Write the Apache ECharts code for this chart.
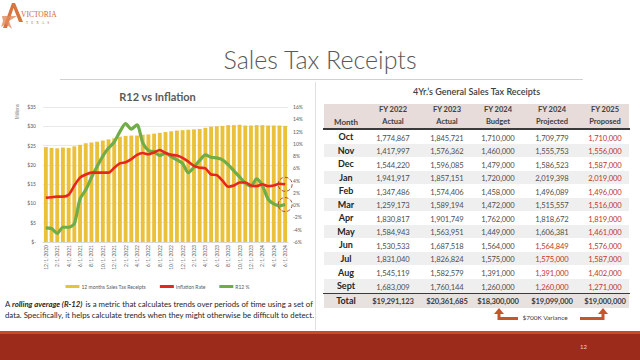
<!DOCTYPE html>
<html><head><meta charset="utf-8">
<script src="https://cdn.jsdelivr.net/npm/echarts@6/dist/echarts.min.js"></script>
<style>
html,body{margin:0;padding:0;width:640px;height:360px;overflow:hidden;background:#fff;font-family:Lato,"Open Sans",sans-serif;}
.abs{position:absolute;}
#chart{position:absolute;left:0;top:0;width:315px;height:300px;}
.cell{position:absolute;text-align:center;white-space:nowrap;}
.para{position:absolute;left:5px;white-space:nowrap;font-size:7.8px;color:#262626;}
</style></head>
<body>
<!-- logo -->
<svg class="abs" style="left:0;top:0" width="30" height="32">
  <polygon points="3,28 12,3 15,3 23,22 19,22 13.5,8 7,28" fill="#d9733f"/>
  <polygon points="2,16 17,16 9,21 12,29 6,24 1,27 3,21" fill="#e08a5a" opacity="0.8"/>
</svg>
<div class="abs" style="left:21px;top:10px;font-family:'Liberation Serif',serif;font-size:7.5px;color:#c9673a;">VICTORIA</div>
<div class="abs" style="left:26px;top:21px;font-family:'Liberation Serif',serif;font-size:3.5px;color:#c9673a;letter-spacing:3px">TEXAS</div>

<div class="abs" style="left:0;width:640px;top:44px;text-align:center;font-size:25px;color:#595959;font-weight:300;">Sales Tax Receipts</div>
<div class="abs" style="left:60px;width:523px;top:79px;height:1px;background:#d0d0d0"></div>
<div class="abs" style="left:315px;width:1px;top:82px;height:248px;background:#e0e0e0"></div>

<div id="chart"></div>

<div class="para" style="top:299px;">A <b><i style="padding-right:1px">rolling average (R-12)</i></b> is a metric that calculates trends over periods of time using a set of</div>
<div class="para" style="top:309.5px;">data. Specifically, it helps calculate trends when they might otherwise be difficult to detect.</div>

<div id="table"></div>

<svg class="abs" style="left:490px;top:304px" width="125" height="22">
  <polyline points="28,14.5 9,14.5 9,9" fill="none" stroke="#c5552a" stroke-width="3"/>
  <polygon points="4,10 14,10 9,4" fill="#c5552a"/>
  <polyline points="90,14.5 113,14.5 113,9" fill="none" stroke="#c5552a" stroke-width="3"/>
  <polygon points="108,10 118,10 113,4" fill="#c5552a"/>
</svg>
<div class="abs" style="left:515px;width:60px;top:314px;text-align:center;font-size:6.5px;color:#404040;">$700K Variance</div>

<div class="abs" style="left:0;top:331px;width:640px;height:3px;background:#c94a2a"></div>
<div class="abs" style="left:0;top:334px;width:640px;height:26px;background:#9c2b1c"></div>
<div class="abs" style="left:580px;top:343px;font-size:6px;color:#f0d0c8;">12</div>

<script>
// ---------------- chart data ----------------
const dates = ['12/1/2020','1/1/2021','2/1/2021','3/1/2021','4/1/2021','5/1/2021','6/1/2021','7/1/2021','8/1/2021','9/1/2021','10/1/2021','11/1/2021',
 '12/1/2021','1/1/2022','2/1/2022','3/1/2022','4/1/2022','5/1/2022','6/1/2022','7/1/2022','8/1/2022','9/1/2022','10/1/2022','11/1/2022',
 '12/1/2022','1/1/2023','2/1/2023','3/1/2023','4/1/2023','5/1/2023','6/1/2023','7/1/2023','8/1/2023','9/1/2023','10/1/2023','11/1/2023',
 '12/1/2023','1/1/2024','2/1/2024','3/1/2024','4/1/2024','5/1/2024','6/1/2024'];
const salesR12 = [24.6,24.4,24.3,24.5,24.4,24.8,25.2,25.6,25.8,26.0,26.3,26.6,
 26.9,27.3,27.5,27.6,27.6,27.8,27.9,28.1,28.3,28.5,28.7,28.9,
 29.0,29.1,29.2,29.3,29.6,29.9,30.0,30.1,30.3,30.3,30.4,30.2,
 30.2,30.3,30.3,30.2,30.2,30.2,30.1];
const inflation = [1.2,1.3,1.4,1.4,1.7,3.2,4.5,5.0,5.3,5.3,5.3,5.3,
 6.1,6.8,7.0,7.5,8.2,8.5,8.3,8.6,9.0,8.5,8.2,8.1,
 7.7,7.1,6.4,6.1,6.0,5.0,4.9,4.0,3.0,3.2,3.7,3.7,
 3.2,3.1,3.4,3.1,3.2,3.5,3.4];
const r12pct = [-3.7,-3.8,-4.6,-3.6,-3.6,-3.0,1.0,2.5,4.5,6.3,8.0,9.3,
 10.3,12.0,13.3,12.4,13.1,10.2,8.9,8.7,8.1,8.5,7.9,7.4,
 6.8,5.3,6.2,7.3,8.2,7.8,7.7,7.4,6.6,5.6,4.6,3.6,
 3.1,4.3,3.2,1.0,0.2,-0.1,0.1];
const leftTicks = {min:0, max:35, interval:5};
const rightTicks = {min:-6, max:16, interval:2};

// ---------------- table data ----------------
const months = ['Oct','Nov','Dec','Jan','Feb','Mar','Apr','May','Jun','Jul','Aug','Sept'];
const fy22 = [1774867,1417997,1544220,1941917,1347486,1259173,1830817,1584943,1530533,1831040,1545119,1683009];
const fy23 = [1845721,1576362,1596085,1857151,1574406,1589194,1901749,1563951,1687518,1826824,1582579,1760144];
const fy24b = [1710000,1460000,1479000,1720000,1458000,1472000,1762000,1449000,1564000,1575000,1391000,1260000];
const fy24p = [1709779,1555753,1586523,2019398,1496089,1515557,1818672,1606381,1564849,1575000,1391000,1260000];
const fy25 = [1710000,1556000,1587000,2019000,1496000,1516000,1819000,1461000,1576000,1587000,1402000,1271000];
const totals = ['$19,291,123','$20,361,685','$18,300,000','$19,099,000','$19,000,000'];
const headTop = ['FY 2022','FY 2023','FY 2024','FY 2024','FY 2025'];
const headBottom = ['Actual','Actual','Budget','Projected','Proposed'];
const projectedRedFrom = 8; // FY2024 projected shown red from Jun

// ---------------- build table ----------------
(function(){
  const t = document.getElementById('table');
  const colX = [346,393,447,498,552,605];
  const red = '#c0392b', dark = '#404040';
  let h = '';
  h += `<div class="cell" style="left:324px;width:305px;top:86px;font-size:9px;color:#404040;font-weight:600">4Yr.’s General Sales Tax Receipts</div>`;
  h += `<div class="abs" style="left:324px;width:305px;top:104px;height:24px;background:#e7dcd9"></div>`;
  h += `<div class="abs" style="left:323px;width:307px;top:127.5px;height:2px;background:#3a3a3a"></div>`;
  h += `<div class="cell" style="left:${colX[0]-25}px;width:50px;top:117px;font-size:8px;font-weight:bold;color:${dark}">Month</div>`;
  for(let c=0;c<5;c++){
    h += `<div class="cell" style="left:${colX[c+1]-30}px;width:60px;top:105px;font-size:7.5px;font-weight:bold;color:${dark}">${headTop[c]}</div>`;
    h += `<div class="cell" style="left:${colX[c+1]-30}px;width:60px;top:117px;font-size:7.5px;font-weight:bold;color:${dark}">${headBottom[c]}</div>`;
  }
  const fmt = v => v.toLocaleString('en-US');
  const rowH = 13.55, y0 = 130;
  for(let r=0;r<months.length;r++){
    const y = y0 + r*rowH;
    if(r%2===1) h += `<div class="abs" style="left:324px;width:305px;top:${y}px;height:${rowH}px;background:#efefef"></div>`;
    const ty = y+1;
    h += `<div class="cell" style="left:${colX[0]-25}px;width:50px;top:${ty}px;font-size:9px;font-weight:bold;color:#262626">${months[r]}</div>`;
    const vals = [fy22[r],fy23[r],fy24b[r],fy24p[r],fy25[r]];
    for(let c=0;c<5;c++){
      const isRed = c===4 || (c===3 && r>=projectedRedFrom);
      h += `<div class="cell" style="left:${colX[c+1]-30}px;width:60px;top:${ty+1.5}px;font-size:7.6px;letter-spacing:-0.1px;color:${isRed?red:'#505050'}">${fmt(vals[c])}</div>`;
    }
  }
  const ty = y0 + 12*rowH;
  h += `<div class="abs" style="left:323px;width:307px;top:${ty}px;height:1.5px;background:#3a3a3a"></div>`;
  h += `<div class="abs" style="left:324px;width:305px;top:${ty+1.5}px;height:14px;background:#e7e2e0"></div>`;
  h += `<div class="cell" style="left:${colX[0]-25}px;width:50px;top:${ty+2}px;font-size:9px;font-weight:bold;color:#262626">Total</div>`;
  for(let c=0;c<5;c++){
    h += `<div class="cell" style="left:${colX[c+1]-30}px;width:60px;top:${ty+3.5}px;font-size:7.6px;letter-spacing:-0.15px;font-weight:bold;color:#404040">${totals[c]}</div>`;
  }
  t.innerHTML = h;
})();

// ---------------- chart ----------------
const chart = echarts.init(document.getElementById('chart'), null, {renderer:'svg'});
const axisFont = {fontSize:5, color:'#595959', fontFamily:'Lato'};
chart.setOption({
  animation:false,
  textStyle:{fontFamily:'Lato'},
  title:{text:'R12 vs Inflation', left:'center', top:86, textStyle:{fontSize:11, fontWeight:'bold', color:'#595959'}},
  legend:{top:279, left:'center', itemWidth:14, itemHeight:3, itemGap:14, icon:'rect',
    textStyle:{fontSize:5, color:'#595959', padding:[0,0,0,-3]},
    data:['12 months Sales Tax Receipts','Inflation Rate','R12 %']},
  graphic:[{type:'text', left:15, top:104, rotation:Math.PI/2, style:{text:'Millions', fontSize:4.5, fill:'#7f7f7f'}}],
  grid:{left:43, right:27, top:107, bottom:58, containLabel:false},
  xAxis:{type:'category', data:dates, axisTick:{show:false},
    axisLine:{lineStyle:{color:'#d9d9d9'}},
    axisLabel:Object.assign({rotate:90, interval:1, margin:3}, axisFont)},
  yAxis:[
    {type:'value', min:leftTicks.min, max:leftTicks.max, interval:leftTicks.interval,
     axisLabel:Object.assign({margin:7, formatter:v=> v===0?'$-':'$'+v}, axisFont),
     splitLine:{lineStyle:{color:'#e3e3e3', width:0.8}}, axisLine:{show:false}, axisTick:{show:false}},
    {type:'value', min:rightTicks.min, max:rightTicks.max, interval:rightTicks.interval,
     axisLabel:Object.assign({margin:5, formatter:v=> v+'%'}, axisFont),
     splitLine:{show:false}, axisLine:{show:false}, axisTick:{show:false}}
  ],
  series:[
    {name:'12 months Sales Tax Receipts', type:'bar', data:salesR12, barCategoryGap:'32%',
     itemStyle:{color:'#ebc13c'}},
    {name:'R12 %', type:'line', yAxisIndex:1, data:r12pct, smooth:0.25, symbol:'none',
     lineStyle:{color:'#70ad47', width:3.2}, itemStyle:{color:'#70ad47'},
     markPoint:{symbol:'circle', symbolSize:14, label:{show:false}, silent:true,
       itemStyle:{color:'rgba(0,0,0,0)', borderColor:'#a33a22', borderWidth:0.9, borderType:'dashed'},
       data:[{coord:[dates[dates.length-1], r12pct[r12pct.length-1]]}]}},
    {name:'Inflation Rate', type:'line', yAxisIndex:1, data:inflation, smooth:0.25, symbol:'none',
     lineStyle:{color:'#e8261c', width:2.6}, itemStyle:{color:'#e8261c'},
     markPoint:{symbol:'circle', symbolSize:14, label:{show:false}, silent:true,
       itemStyle:{color:'rgba(0,0,0,0)', borderColor:'#a33a22', borderWidth:0.9, borderType:'dashed'},
       data:[{coord:[dates[dates.length-1], inflation[inflation.length-1]]}]}}
  ]
});
</script>
</body></html>
